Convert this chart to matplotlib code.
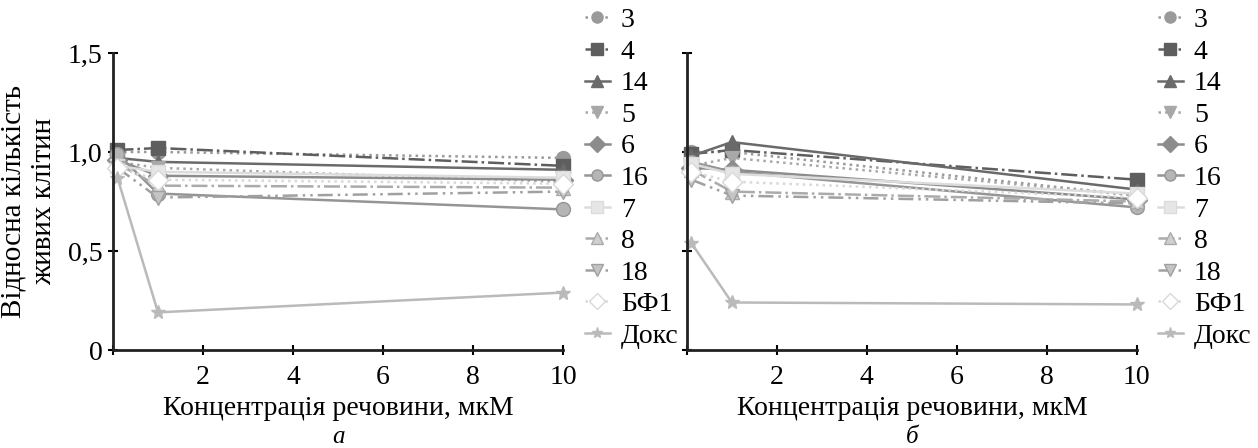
import matplotlib
matplotlib.use("Agg")
import matplotlib.pyplot as plt

plt.rcParams['font.family'] = ['Liberation Serif', 'DejaVu Serif']

# концентрації, мкМ
conc = [0.1, 1, 10]

names = ['3', '4', '14', '5', '6', '16', '7', '8', '18', 'БФ1', 'Докс']

# панель а
a_vals = {
    '3':    [1.00, 1.00, 0.97],
    '4':    [1.01, 1.02, 0.93],
    '14':   [0.97, 0.95, 0.91],
    '5':    [0.95, 0.92, 0.85],
    '6':    [0.96, 0.88, 0.86],
    '16':   [0.99, 0.79, 0.71],
    '7':    [0.93, 0.90, 0.87],
    '8':    [0.94, 0.83, 0.82],
    '18':   [0.92, 0.77, 0.80],
    'БФ1':  [0.92, 0.86, 0.84],
    'Докс': [0.87, 0.19, 0.29],
}

# панель б
b_vals = {
    '3':    [1.00, 1.00, 0.78],
    '4':    [0.99, 1.01, 0.86],
    '14':   [0.98, 1.05, 0.81],
    '5':    [0.93, 0.97, 0.78],
    '6':    [0.92, 0.91, 0.76],
    '16':   [0.95, 0.90, 0.72],
    '7':    [0.94, 0.89, 0.79],
    '8':    [0.91, 0.80, 0.75],
    '18':   [0.86, 0.78, 0.74],
    'БФ1':  [0.90, 0.85, 0.77],
    'Докс': [0.54, 0.24, 0.23],
}

styles = {
    '3':    dict(marker='o', color='#9a9a9a', ls=':', mfc='#9a9a9a'),
    '4':    dict(marker='s', color='#5e5e5e', ls='-.', mfc='#5e5e5e'),
    '14':   dict(marker='^', color='#6a6a6a', ls='-', mfc='#6a6a6a'),
    '5':    dict(marker='v', color='#a8a8a8', ls=':', mfc='#a8a8a8'),
    '6':    dict(marker='D', color='#8c8c8c', ls='-', mfc='#8c8c8c'),
    '16':   dict(marker='o', color='#959595', ls='-', mfc='#b5b5b5'),
    '7':    dict(marker='s', color='#dcdcdc', ls='-', mfc='#e6e6e6'),
    '8':    dict(marker='^', color='#ababab', ls='-.', mfc='#cfcfcf'),
    '18':   dict(marker='v', color='#a0a0a0', ls=(0, (6, 2, 1, 2, 1, 2)), mfc='#c4c4c4'),
    'БФ1':  dict(marker='D', color='#d8d8d8', ls=':', mfc='white'),
    'Докс': dict(marker='*', color='#bababa', ls='-', mfc='#bababa'),
}

fig = plt.figure(figsize=(12.58, 4.48), dpi=100)
ax1 = fig.add_axes([0.0898, 0.21875, 0.3577, 0.663])
ax2 = fig.add_axes([0.5460, 0.21875, 0.3577, 0.663])

panels = [(ax1, a_vals, 'а', 0.269, 582), (ax2, b_vals, 'б', 0.725, 1155)]
for ax, vals, letter, lx, legx in panels:
    for n in names:
        st = styles[n]
        ax.plot(conc, vals[n], marker=st['marker'], color=st['color'],
                linestyle=st['ls'], linewidth=1.8, markersize=10,
                markerfacecolor=st['mfc'], markeredgecolor=st['color'],
                label=n, clip_on=False)
    ax.set_xlim(0, 10)
    ax.set_ylim(0, 1.5)
    ax.set_xticks([0, 2, 4, 6, 8, 10])
    ax.set_xticklabels(['', '2', '4', '6', '8', '10'])
    ax.set_yticks([0, 0.5, 1.0, 1.5])
    ax.tick_params(direction='inout', length=7, width=1.5, labelsize=20, pad=4)
    ax.tick_params(axis='x', pad=7)
    for s in ['top', 'right']:
        ax.spines[s].set_visible(False)
    for s in ['left', 'bottom']:
        ax.spines[s].set_linewidth(2)
        ax.spines[s].set_color('#222222')
    ax.legend(loc='upper left', bbox_to_anchor=(legx / 1258, 1 - 5 / 448),
              bbox_transform=fig.transFigure, frameon=False,
              fontsize=20, handlelength=0.9, handletextpad=0.4,
              labelspacing=0.22, borderaxespad=0, borderpad=0.1,
              markerscale=0.8)
    fig.text(lx, 1 - 408 / 448, 'Концентрація речовини, мкМ', fontsize=20,
             ha='center', va='center')
    fig.text(lx, 0.5 / 448, letter, fontsize=18, style='italic', ha='center',
             va='bottom')

ax1.set_yticklabels(['0', '0,5', '1,0', '1,5'])
ax2.set_yticklabels([])
ax1.set_ylabel('Відносна кількість\nживих клітин', fontsize=21, labelpad=8)

fig.savefig('out.png', dpi=100)
